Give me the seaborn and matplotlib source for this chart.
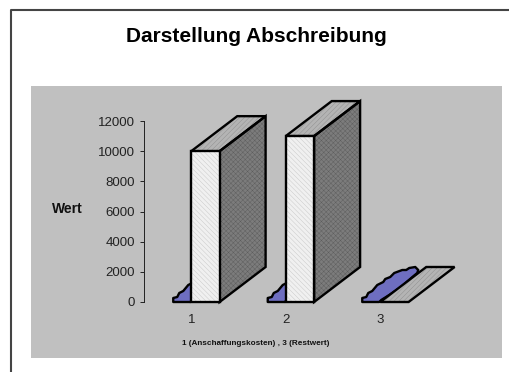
#!/usr/bin/env python3
import numpy as np
import pandas as pd
import seaborn as sns
import matplotlib.pyplot as plt
from matplotlib.patches import Polygon, Rectangle
from matplotlib.lines import Line2D

#::: data
categories = ['1', '2', '3']
blue_values = [0, 0, 0]
main_values = [10000, 11000, 0]
y_ticks = [0, 2000, 4000, 6000, 8000, 10000, 12000]

title = 'Darstellung Abschreibung'
x_title = '1 (Anschaffungskosten) , 3 (Restwert)'
y_title = 'Wert'

#::: plotting settings
sns.set_style('white')
plt.rcParams['font.family'] = ['Liberation Sans', 'DejaVu Sans']
plt.rcParams['hatch.linewidth'] = 0.3

W, H = 509, 372
px_x = 1 / 94.5        # categories per pixel
px_y = 12000 / 181     # value per pixel
depth_x = 46 * px_x
depth_y = 35 * px_y
edge = 1.7

# outline of the flat blue shape, pixels from the front corner of the grey bar
blob = np.array([(-18, 0), (-18, 4), (-14, 5), (-12, 9), (-8, 11), (-3, 17), (3, 20), (5, 23), (10, 25), (14, 29),
                 (22, 32), (26, 32), (29, 34), (35, 35), (38, 32), (37, 29), (31, 24), (21, 15), (9, 7), (1, 2),
                 (-1, 0)], dtype=float)

fig = plt.figure(figsize=(W / 100, H / 100), dpi=100, facecolor='white')

#::: page frame and grey panel
fig.add_artist(Rectangle((31 / W, 1 - 358 / H), 471 / W, 272 / H, transform=fig.transFigure,
                         facecolor='#c0c0c0', edgecolor='none', zorder=-5))
fig.add_artist(Line2D([11 / W, 11 / W, 1], [0, 1 - 10 / H, 1 - 10 / H], color='#444444', lw=1.5))

ax = fig.add_axes([144 / W, 1 - 302 / H, 283.5 / W, 181 / H])
ax.patch.set_visible(False)

df = pd.DataFrame({'cat': categories * 2,
                   'wert': blue_values + main_values,
                   'serie': ['a'] * 3 + ['b'] * 3})
sns.barplot(data=df, x='cat', y='wert', hue='serie', palette=['#6e6ec0', '#ffffff'],
            width=0.6, legend=False, ax=ax)
ax.set_xlim(-0.5, 2.5)
ax.set_ylim(0, 12000)
ax.set_yticks(y_ticks)
ax.set_xlabel('')
ax.set_ylabel('')

sns.despine(ax=ax, bottom=True)
ax.spines['left'].set_color('#222222')
ax.spines['left'].set_linewidth(0.7)
ax.tick_params(axis='y', left=True, length=3, width=0.7, color='#222222', pad=3.5, labelsize=9.5, labelcolor='#222222')
ax.tick_params(axis='x', bottom=False, pad=5, labelsize=9.5, labelcolor='#222222')


def face(pts, color, hatch_color, hatch, z):
    # hatch follows the edge colour, so the black outline goes on top separately
    ax.add_patch(Polygon(pts, closed=True, facecolor=color, edgecolor=hatch_color, hatch=hatch, lw=0,
                         clip_on=False, zorder=z))
    ax.add_patch(Polygon(pts, closed=True, fill=False, edgecolor='black', lw=edge, joinstyle='miter',
                         clip_on=False, zorder=z + 0.1))


blue_bars, main_bars = ax.containers[0], ax.containers[1]

for bar in blue_bars:
    bar.set_visible(False)

for b in main_bars:
    x0, x1, h = b.get_x(), b.get_x() + b.get_width(), b.get_height()
    b.set_visible(False)

    # blue shape lies flat on the floor, behind the bar
    ax.add_patch(Polygon(np.c_[x0 + blob[:, 0] * px_x, blob[:, 1] * px_y], closed=True, facecolor='#6e6ec0',
                         edgecolor='black', lw=edge, joinstyle='round', clip_on=False, zorder=3))

    face([(x0, h), (x1, h), (x1 + depth_x, h + depth_y), (x0 + depth_x, h + depth_y)],
         '#b4b4b4', '#8c8c8c', '///////', 4)
    if h > 0:
        face([(x1, 0), (x1 + depth_x, depth_y), (x1 + depth_x, h + depth_y), (x1, h)],
             '#7c7c7c', '#5c5c5c', 'xxxxxxx', 4)
        face([(x0, 0), (x1, 0), (x1, h), (x0, h)], '#f0f0f0', '#c4c4c4', '\\\\\\\\\\\\\\', 5)

#::: texts
fig.text(256 / W, 1 - 36.5 / H, title, ha='center', va='center', fontsize=15, fontweight='bold', color='black')
fig.text(67.5 / W, 1 - 209 / H, y_title, ha='center', va='center', fontsize=10, fontweight='bold', color='#111111')
fig.text(256 / W, 1 - 343.5 / H, x_title, ha='center', va='center', fontsize=5.9, fontweight='bold', color='#111111')

fig.savefig('out.png', dpi=100)
